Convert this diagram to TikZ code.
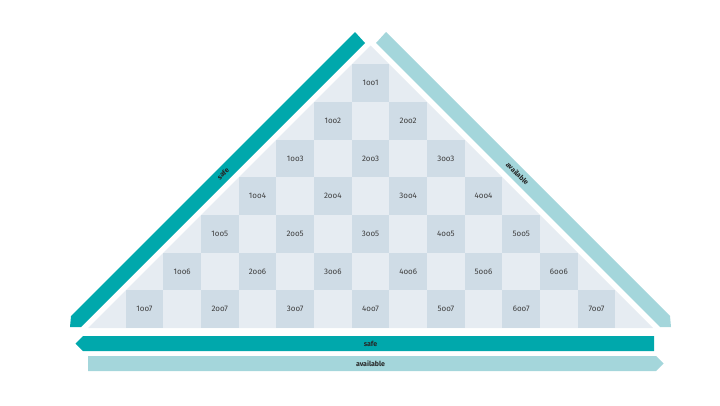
\documentclass[tikz,border=0pt]{standalone}
\usepackage{fontspec}
\setmainfont{Fira Sans}
\usepackage{tikz}
\usepackage{tkz-euclide}
\usetikzlibrary{calc}
\definecolor{Teal}{RGB}{0,168,172}
\definecolor{LightTeal}{RGB}{164,214,219}
\definecolor{Pale}{RGB}{230,236,242}
\definecolor{Tile}{RGB}{207,220,230}
\definecolor{Ink}{RGB}{62,62,62}
\tikzset{tile/.style={fill=Tile,minimum size=37.67pt,inner sep=0pt,text=Ink,font=\fontsize{8}{9}\selectfont},
   tag/.style={text=black!85,inner sep=0pt,font=\fontsize{7}{8}\selectfont\bfseries}}

\begin{document}
\begin{tikzpicture}[x=1pt,y=-1pt]
          \useasboundingbox (0,0) rectangle (720,405);
         \tkzDefPoint(88,328){A}\tkzDefPoint(653,328){B}\tkzDefPoint(370.5,45.5){C}
          \fill[Pale](A)--(B)--(C)--cycle;
          \foreach \k in {1,...,7}{\foreach \i in {1,...,\k}{
            \pgfmathsetmacro{\cx}{88+(6-\k+2*\i+0.5)*37.67}\pgfmathsetmacro{\cy}{328-(7.5-\k)*37.67}
            \node[tile] (t\i\k) at (\cx,\cy) {\i oo\k};}}
          \fill[Teal](355,32)--(365,43)--(81,327)--(70,327)--(71,316)--cycle;
          \fill[LightTeal](386,32)--(376,43)--(660,327)--(671,327)--(670,316)--cycle;
          \fill[Teal](654,336)--(654,351)--(83,351)--(75.5,343.5)--(83,336)--cycle;
          \fill[LightTeal](88,356)--(656,356)--(663.5,363.5)--(656,371)--(88,371)--cycle;
          \node[tag,rotate=45] (safeL) at (223,173.5) {safe};
          \node[tag,rotate=-45] (availR) at (517.5,173.5) {available};
          \node[tag] (safeB) at (370.5,343.5) {safe};
          \node[tag] (availB) at (370.5,363.5) {available};
          \end{tikzpicture}
\end{document}
